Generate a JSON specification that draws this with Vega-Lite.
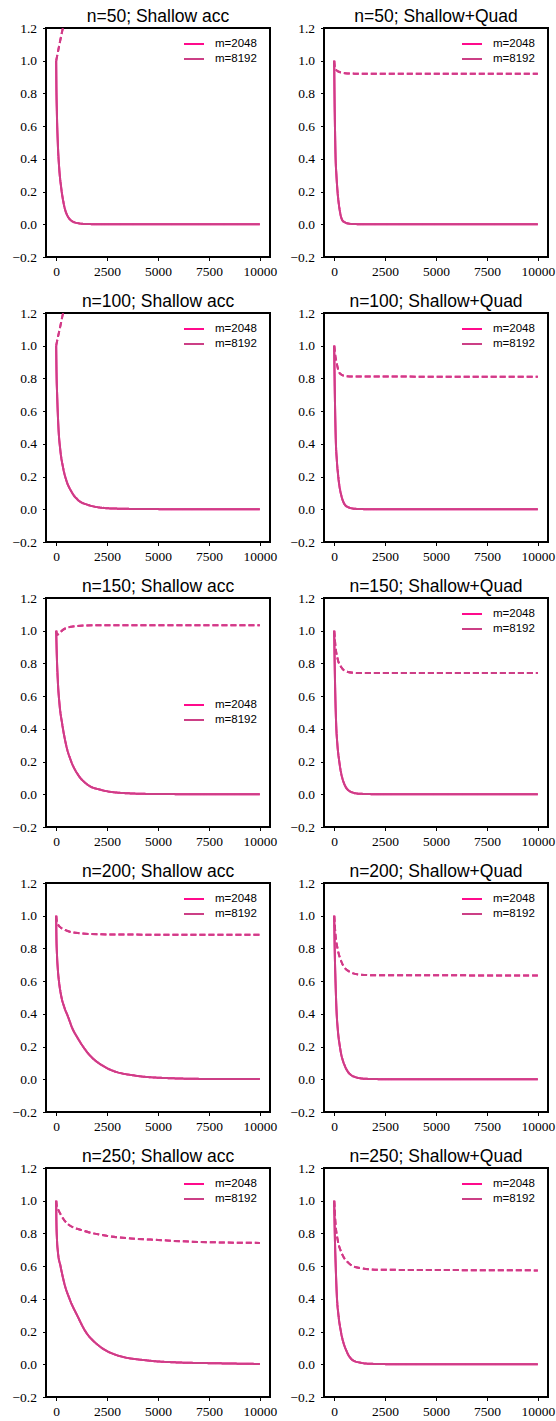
{
"$schema": "https://vega.github.io/schema/vega-lite/v6.json",
"padding": {"left": 11, "top": 6, "right": 4, "bottom": 2},
"background": "white",
"columns": 2,
"spacing": {"row": 56, "column": 54},
"bounds": "flush",
"resolve": {"legend": {"color": "independent", "strokeDash": "independent"}},
"datasets": {
"d": [
{"p":"a50","m":"m=2048","s":"train","x":0,"y":1},{"p":"a50","m":"m=2048","s":"train","x":10,"y":0.85},{"p":"a50","m":"m=2048","s":"train","x":33,"y":0.69},{"p":"a50","m":"m=2048","s":"train","x":82,"y":0.49},{"p":"a50","m":"m=2048","s":"train","x":150,"y":0.34},{"p":"a50","m":"m=2048","s":"train","x":250,"y":0.22},{"p":"a50","m":"m=2048","s":"train","x":380,"y":0.12},{"p":"a50","m":"m=2048","s":"train","x":575,"y":0.047},{"p":"a50","m":"m=2048","s":"train","x":900,"y":0.012},{"p":"a50","m":"m=2048","s":"train","x":1400,"y":0.002},{"p":"a50","m":"m=2048","s":"train","x":2500,"y":0},{"p":"a50","m":"m=2048","s":"train","x":10000,"y":0},
{"p":"a50","m":"m=2048","s":"test","x":0,"y":1},{"p":"a50","m":"m=2048","s":"test","x":80,"y":1.05},{"p":"a50","m":"m=2048","s":"test","x":160,"y":1.1},{"p":"a50","m":"m=2048","s":"test","x":330,"y":1.2},{"p":"a50","m":"m=2048","s":"test","x":600,"y":1.33},{"p":"a50","m":"m=2048","s":"test","x":1000,"y":1.5},
{"p":"a50","m":"m=8192","s":"train","x":0,"y":1},{"p":"a50","m":"m=8192","s":"train","x":10,"y":0.85},{"p":"a50","m":"m=8192","s":"train","x":33,"y":0.69},{"p":"a50","m":"m=8192","s":"train","x":82,"y":0.49},{"p":"a50","m":"m=8192","s":"train","x":150,"y":0.34},{"p":"a50","m":"m=8192","s":"train","x":250,"y":0.22},{"p":"a50","m":"m=8192","s":"train","x":380,"y":0.12},{"p":"a50","m":"m=8192","s":"train","x":575,"y":0.047},{"p":"a50","m":"m=8192","s":"train","x":900,"y":0.012},{"p":"a50","m":"m=8192","s":"train","x":1400,"y":0.002},{"p":"a50","m":"m=8192","s":"train","x":2500,"y":0},{"p":"a50","m":"m=8192","s":"train","x":10000,"y":0},
{"p":"a50","m":"m=8192","s":"test","x":0,"y":1},{"p":"a50","m":"m=8192","s":"test","x":80,"y":1.05},{"p":"a50","m":"m=8192","s":"test","x":160,"y":1.1},{"p":"a50","m":"m=8192","s":"test","x":330,"y":1.2},{"p":"a50","m":"m=8192","s":"test","x":600,"y":1.33},{"p":"a50","m":"m=8192","s":"test","x":1000,"y":1.5},

{"p":"a100","m":"m=2048","s":"train","x":0,"y":1},{"p":"a100","m":"m=2048","s":"train","x":15,"y":0.85},{"p":"a100","m":"m=2048","s":"train","x":50,"y":0.69},{"p":"a100","m":"m=2048","s":"train","x":115,"y":0.49},{"p":"a100","m":"m=2048","s":"train","x":200,"y":0.365},{"p":"a100","m":"m=2048","s":"train","x":330,"y":0.26},{"p":"a100","m":"m=2048","s":"train","x":490,"y":0.18},{"p":"a100","m":"m=2048","s":"train","x":740,"y":0.11},{"p":"a100","m":"m=2048","s":"train","x":1070,"y":0.057},{"p":"a100","m":"m=2048","s":"train","x":1560,"y":0.027},{"p":"a100","m":"m=2048","s":"train","x":2200,"y":0.01},{"p":"a100","m":"m=2048","s":"train","x":3000,"y":0.004},{"p":"a100","m":"m=2048","s":"train","x":5000,"y":0.001},{"p":"a100","m":"m=2048","s":"train","x":10000,"y":0},
{"p":"a100","m":"m=2048","s":"test","x":0,"y":1},{"p":"a100","m":"m=2048","s":"test","x":80,"y":1.05},{"p":"a100","m":"m=2048","s":"test","x":170,"y":1.1},{"p":"a100","m":"m=2048","s":"test","x":340,"y":1.2},{"p":"a100","m":"m=2048","s":"test","x":600,"y":1.32},{"p":"a100","m":"m=2048","s":"test","x":1000,"y":1.5},
{"p":"a100","m":"m=8192","s":"train","x":0,"y":1},{"p":"a100","m":"m=8192","s":"train","x":15,"y":0.85},{"p":"a100","m":"m=8192","s":"train","x":50,"y":0.69},{"p":"a100","m":"m=8192","s":"train","x":115,"y":0.49},{"p":"a100","m":"m=8192","s":"train","x":200,"y":0.365},{"p":"a100","m":"m=8192","s":"train","x":330,"y":0.26},{"p":"a100","m":"m=8192","s":"train","x":490,"y":0.18},{"p":"a100","m":"m=8192","s":"train","x":740,"y":0.11},{"p":"a100","m":"m=8192","s":"train","x":1070,"y":0.057},{"p":"a100","m":"m=8192","s":"train","x":1560,"y":0.027},{"p":"a100","m":"m=8192","s":"train","x":2200,"y":0.01},{"p":"a100","m":"m=8192","s":"train","x":3000,"y":0.004},{"p":"a100","m":"m=8192","s":"train","x":5000,"y":0.001},{"p":"a100","m":"m=8192","s":"train","x":10000,"y":0},
{"p":"a100","m":"m=8192","s":"test","x":0,"y":1},{"p":"a100","m":"m=8192","s":"test","x":80,"y":1.05},{"p":"a100","m":"m=8192","s":"test","x":170,"y":1.1},{"p":"a100","m":"m=8192","s":"test","x":340,"y":1.2},{"p":"a100","m":"m=8192","s":"test","x":600,"y":1.32},{"p":"a100","m":"m=8192","s":"test","x":1000,"y":1.5},

{"p":"a150","m":"m=2048","s":"train","x":0,"y":1},{"p":"a150","m":"m=2048","s":"train","x":33,"y":0.84},{"p":"a150","m":"m=2048","s":"train","x":82,"y":0.69},{"p":"a150","m":"m=2048","s":"train","x":164,"y":0.55},{"p":"a150","m":"m=2048","s":"train","x":295,"y":0.43},{"p":"a150","m":"m=2048","s":"train","x":490,"y":0.3},{"p":"a150","m":"m=2048","s":"train","x":740,"y":0.2},{"p":"a150","m":"m=2048","s":"train","x":1070,"y":0.12},{"p":"a150","m":"m=2048","s":"train","x":1560,"y":0.057},{"p":"a150","m":"m=2048","s":"train","x":2210,"y":0.027},{"p":"a150","m":"m=2048","s":"train","x":3030,"y":0.01},{"p":"a150","m":"m=2048","s":"train","x":4670,"y":0.002},{"p":"a150","m":"m=2048","s":"train","x":7000,"y":0.0005},{"p":"a150","m":"m=2048","s":"train","x":10000,"y":0},
{"p":"a150","m":"m=2048","s":"test","x":0,"y":1},{"p":"a150","m":"m=2048","s":"test","x":50,"y":0.975},{"p":"a150","m":"m=2048","s":"test","x":150,"y":0.985},{"p":"a150","m":"m=2048","s":"test","x":330,"y":1.005},{"p":"a150","m":"m=2048","s":"test","x":740,"y":1.024},{"p":"a150","m":"m=2048","s":"test","x":1400,"y":1.032},{"p":"a150","m":"m=2048","s":"test","x":2500,"y":1.034},{"p":"a150","m":"m=2048","s":"test","x":10000,"y":1.034},
{"p":"a150","m":"m=8192","s":"train","x":0,"y":1},{"p":"a150","m":"m=8192","s":"train","x":33,"y":0.84},{"p":"a150","m":"m=8192","s":"train","x":82,"y":0.69},{"p":"a150","m":"m=8192","s":"train","x":164,"y":0.55},{"p":"a150","m":"m=8192","s":"train","x":295,"y":0.43},{"p":"a150","m":"m=8192","s":"train","x":490,"y":0.3},{"p":"a150","m":"m=8192","s":"train","x":740,"y":0.2},{"p":"a150","m":"m=8192","s":"train","x":1070,"y":0.12},{"p":"a150","m":"m=8192","s":"train","x":1560,"y":0.057},{"p":"a150","m":"m=8192","s":"train","x":2210,"y":0.027},{"p":"a150","m":"m=8192","s":"train","x":3030,"y":0.01},{"p":"a150","m":"m=8192","s":"train","x":4670,"y":0.002},{"p":"a150","m":"m=8192","s":"train","x":7000,"y":0.0005},{"p":"a150","m":"m=8192","s":"train","x":10000,"y":0},
{"p":"a150","m":"m=8192","s":"test","x":0,"y":1},{"p":"a150","m":"m=8192","s":"test","x":50,"y":0.975},{"p":"a150","m":"m=8192","s":"test","x":150,"y":0.985},{"p":"a150","m":"m=8192","s":"test","x":330,"y":1.005},{"p":"a150","m":"m=8192","s":"test","x":740,"y":1.024},{"p":"a150","m":"m=8192","s":"test","x":1400,"y":1.032},{"p":"a150","m":"m=8192","s":"test","x":2500,"y":1.034},{"p":"a150","m":"m=8192","s":"test","x":10000,"y":1.034},

{"p":"a200","m":"m=2048","s":"train","x":0,"y":1},{"p":"a200","m":"m=2048","s":"train","x":10,"y":0.88},{"p":"a200","m":"m=2048","s":"train","x":40,"y":0.76},{"p":"a200","m":"m=2048","s":"train","x":82,"y":0.67},{"p":"a200","m":"m=2048","s":"train","x":150,"y":0.585},{"p":"a200","m":"m=2048","s":"train","x":246,"y":0.51},{"p":"a200","m":"m=2048","s":"train","x":400,"y":0.44},{"p":"a200","m":"m=2048","s":"train","x":574,"y":0.385},{"p":"a200","m":"m=2048","s":"train","x":800,"y":0.31},{"p":"a200","m":"m=2048","s":"train","x":1066,"y":0.25},{"p":"a200","m":"m=2048","s":"train","x":1558,"y":0.16},{"p":"a200","m":"m=2048","s":"train","x":2500,"y":0.068},{"p":"a200","m":"m=2048","s":"train","x":3850,"y":0.023},{"p":"a200","m":"m=2048","s":"train","x":5500,"y":0.007},{"p":"a200","m":"m=2048","s":"train","x":7500,"y":0.002},{"p":"a200","m":"m=2048","s":"train","x":10000,"y":0.001},
{"p":"a200","m":"m=2048","s":"test","x":0,"y":1},{"p":"a200","m":"m=2048","s":"test","x":30,"y":0.965},{"p":"a200","m":"m=2048","s":"test","x":82,"y":0.948},{"p":"a200","m":"m=2048","s":"test","x":200,"y":0.93},{"p":"a200","m":"m=2048","s":"test","x":410,"y":0.914},{"p":"a200","m":"m=2048","s":"test","x":1066,"y":0.894},{"p":"a200","m":"m=2048","s":"test","x":2214,"y":0.886},{"p":"a200","m":"m=2048","s":"test","x":5000,"y":0.884},{"p":"a200","m":"m=2048","s":"test","x":10000,"y":0.883},
{"p":"a200","m":"m=8192","s":"train","x":0,"y":1},{"p":"a200","m":"m=8192","s":"train","x":10,"y":0.88},{"p":"a200","m":"m=8192","s":"train","x":40,"y":0.76},{"p":"a200","m":"m=8192","s":"train","x":82,"y":0.67},{"p":"a200","m":"m=8192","s":"train","x":150,"y":0.585},{"p":"a200","m":"m=8192","s":"train","x":246,"y":0.51},{"p":"a200","m":"m=8192","s":"train","x":400,"y":0.44},{"p":"a200","m":"m=8192","s":"train","x":574,"y":0.385},{"p":"a200","m":"m=8192","s":"train","x":800,"y":0.31},{"p":"a200","m":"m=8192","s":"train","x":1066,"y":0.25},{"p":"a200","m":"m=8192","s":"train","x":1558,"y":0.16},{"p":"a200","m":"m=8192","s":"train","x":2500,"y":0.068},{"p":"a200","m":"m=8192","s":"train","x":3850,"y":0.023},{"p":"a200","m":"m=8192","s":"train","x":5500,"y":0.007},{"p":"a200","m":"m=8192","s":"train","x":7500,"y":0.002},{"p":"a200","m":"m=8192","s":"train","x":10000,"y":0.001},
{"p":"a200","m":"m=8192","s":"test","x":0,"y":1},{"p":"a200","m":"m=8192","s":"test","x":30,"y":0.965},{"p":"a200","m":"m=8192","s":"test","x":82,"y":0.948},{"p":"a200","m":"m=8192","s":"test","x":200,"y":0.93},{"p":"a200","m":"m=8192","s":"test","x":410,"y":0.914},{"p":"a200","m":"m=8192","s":"test","x":1066,"y":0.894},{"p":"a200","m":"m=8192","s":"test","x":2214,"y":0.886},{"p":"a200","m":"m=8192","s":"test","x":5000,"y":0.884},{"p":"a200","m":"m=8192","s":"test","x":10000,"y":0.883},

{"p":"a250","m":"m=2048","s":"train","x":0,"y":1},{"p":"a250","m":"m=2048","s":"train","x":10,"y":0.88},{"p":"a250","m":"m=2048","s":"train","x":40,"y":0.76},{"p":"a250","m":"m=2048","s":"train","x":82,"y":0.69},{"p":"a250","m":"m=2048","s":"train","x":213,"y":0.6},{"p":"a250","m":"m=2048","s":"train","x":410,"y":0.49},{"p":"a250","m":"m=2048","s":"train","x":656,"y":0.4},{"p":"a250","m":"m=2048","s":"train","x":1066,"y":0.29},{"p":"a250","m":"m=2048","s":"train","x":1394,"y":0.21},{"p":"a250","m":"m=2048","s":"train","x":2132,"y":0.11},{"p":"a250","m":"m=2048","s":"train","x":2952,"y":0.057},{"p":"a250","m":"m=2048","s":"train","x":4510,"y":0.023},{"p":"a250","m":"m=2048","s":"train","x":5822,"y":0.012},{"p":"a250","m":"m=2048","s":"train","x":7954,"y":0.006},{"p":"a250","m":"m=2048","s":"train","x":10000,"y":0.002},
{"p":"a250","m":"m=2048","s":"test","x":0,"y":1},{"p":"a250","m":"m=2048","s":"test","x":30,"y":0.965},{"p":"a250","m":"m=2048","s":"test","x":82,"y":0.95},{"p":"a250","m":"m=2048","s":"test","x":246,"y":0.91},{"p":"a250","m":"m=2048","s":"test","x":574,"y":0.857},{"p":"a250","m":"m=2048","s":"test","x":1394,"y":0.815},{"p":"a250","m":"m=2048","s":"test","x":2500,"y":0.785},{"p":"a250","m":"m=2048","s":"test","x":3850,"y":0.768},{"p":"a250","m":"m=2048","s":"test","x":5000,"y":0.76},{"p":"a250","m":"m=2048","s":"test","x":6500,"y":0.75},{"p":"a250","m":"m=2048","s":"test","x":10000,"y":0.742},
{"p":"a250","m":"m=8192","s":"train","x":0,"y":1},{"p":"a250","m":"m=8192","s":"train","x":10,"y":0.88},{"p":"a250","m":"m=8192","s":"train","x":40,"y":0.76},{"p":"a250","m":"m=8192","s":"train","x":82,"y":0.69},{"p":"a250","m":"m=8192","s":"train","x":213,"y":0.6},{"p":"a250","m":"m=8192","s":"train","x":410,"y":0.49},{"p":"a250","m":"m=8192","s":"train","x":656,"y":0.4},{"p":"a250","m":"m=8192","s":"train","x":1066,"y":0.29},{"p":"a250","m":"m=8192","s":"train","x":1394,"y":0.21},{"p":"a250","m":"m=8192","s":"train","x":2132,"y":0.11},{"p":"a250","m":"m=8192","s":"train","x":2952,"y":0.057},{"p":"a250","m":"m=8192","s":"train","x":4510,"y":0.023},{"p":"a250","m":"m=8192","s":"train","x":5822,"y":0.012},{"p":"a250","m":"m=8192","s":"train","x":7954,"y":0.006},{"p":"a250","m":"m=8192","s":"train","x":10000,"y":0.002},
{"p":"a250","m":"m=8192","s":"test","x":0,"y":1},{"p":"a250","m":"m=8192","s":"test","x":30,"y":0.965},{"p":"a250","m":"m=8192","s":"test","x":82,"y":0.95},{"p":"a250","m":"m=8192","s":"test","x":246,"y":0.91},{"p":"a250","m":"m=8192","s":"test","x":574,"y":0.857},{"p":"a250","m":"m=8192","s":"test","x":1394,"y":0.815},{"p":"a250","m":"m=8192","s":"test","x":2500,"y":0.785},{"p":"a250","m":"m=8192","s":"test","x":3850,"y":0.768},{"p":"a250","m":"m=8192","s":"test","x":5000,"y":0.76},{"p":"a250","m":"m=8192","s":"test","x":6500,"y":0.75},{"p":"a250","m":"m=8192","s":"test","x":10000,"y":0.742},

{"p":"q50","m":"m=2048","s":"train","x":0,"y":1},{"p":"q50","m":"m=2048","s":"train","x":20,"y":0.75},{"p":"q50","m":"m=2048","s":"train","x":45,"y":0.55},{"p":"q50","m":"m=2048","s":"train","x":66,"y":0.42},{"p":"q50","m":"m=2048","s":"train","x":110,"y":0.3},{"p":"q50","m":"m=2048","s":"train","x":165,"y":0.2},{"p":"q50","m":"m=2048","s":"train","x":280,"y":0.08},{"p":"q50","m":"m=2048","s":"train","x":445,"y":0.018},{"p":"q50","m":"m=2048","s":"train","x":775,"y":0.003},{"p":"q50","m":"m=2048","s":"train","x":1500,"y":0},{"p":"q50","m":"m=2048","s":"train","x":10000,"y":0},
{"p":"q50","m":"m=2048","s":"test","x":0,"y":1},{"p":"q50","m":"m=2048","s":"test","x":30,"y":0.96},{"p":"q50","m":"m=2048","s":"test","x":66,"y":0.95},{"p":"q50","m":"m=2048","s":"test","x":200,"y":0.934},{"p":"q50","m":"m=2048","s":"test","x":530,"y":0.924},{"p":"q50","m":"m=2048","s":"test","x":1000,"y":0.921},{"p":"q50","m":"m=2048","s":"test","x":10000,"y":0.92},
{"p":"q50","m":"m=8192","s":"train","x":0,"y":1},{"p":"q50","m":"m=8192","s":"train","x":20,"y":0.75},{"p":"q50","m":"m=8192","s":"train","x":45,"y":0.55},{"p":"q50","m":"m=8192","s":"train","x":66,"y":0.42},{"p":"q50","m":"m=8192","s":"train","x":110,"y":0.3},{"p":"q50","m":"m=8192","s":"train","x":165,"y":0.2},{"p":"q50","m":"m=8192","s":"train","x":280,"y":0.08},{"p":"q50","m":"m=8192","s":"train","x":445,"y":0.018},{"p":"q50","m":"m=8192","s":"train","x":775,"y":0.003},{"p":"q50","m":"m=8192","s":"train","x":1500,"y":0},{"p":"q50","m":"m=8192","s":"train","x":10000,"y":0},
{"p":"q50","m":"m=8192","s":"test","x":0,"y":1},{"p":"q50","m":"m=8192","s":"test","x":30,"y":0.96},{"p":"q50","m":"m=8192","s":"test","x":66,"y":0.95},{"p":"q50","m":"m=8192","s":"test","x":200,"y":0.934},{"p":"q50","m":"m=8192","s":"test","x":530,"y":0.924},{"p":"q50","m":"m=8192","s":"test","x":1000,"y":0.921},{"p":"q50","m":"m=8192","s":"test","x":10000,"y":0.92},

{"p":"q100","m":"m=2048","s":"train","x":0,"y":1},{"p":"q100","m":"m=2048","s":"train","x":25,"y":0.76},{"p":"q100","m":"m=2048","s":"train","x":50,"y":0.58},{"p":"q100","m":"m=2048","s":"train","x":80,"y":0.42},{"p":"q100","m":"m=2048","s":"train","x":130,"y":0.3},{"p":"q100","m":"m=2048","s":"train","x":200,"y":0.2},{"p":"q100","m":"m=2048","s":"train","x":360,"y":0.08},{"p":"q100","m":"m=2048","s":"train","x":610,"y":0.018},{"p":"q100","m":"m=2048","s":"train","x":1020,"y":0.003},{"p":"q100","m":"m=2048","s":"train","x":2000,"y":0},{"p":"q100","m":"m=2048","s":"train","x":10000,"y":0},
{"p":"q100","m":"m=2048","s":"test","x":0,"y":1},{"p":"q100","m":"m=2048","s":"test","x":66,"y":0.93},{"p":"q100","m":"m=2048","s":"test","x":115,"y":0.9},{"p":"q100","m":"m=2048","s":"test","x":165,"y":0.87},{"p":"q100","m":"m=2048","s":"test","x":280,"y":0.83},{"p":"q100","m":"m=2048","s":"test","x":530,"y":0.815},{"p":"q100","m":"m=2048","s":"test","x":1000,"y":0.812},{"p":"q100","m":"m=2048","s":"test","x":10000,"y":0.81},
{"p":"q100","m":"m=8192","s":"train","x":0,"y":1},{"p":"q100","m":"m=8192","s":"train","x":25,"y":0.76},{"p":"q100","m":"m=8192","s":"train","x":50,"y":0.58},{"p":"q100","m":"m=8192","s":"train","x":80,"y":0.42},{"p":"q100","m":"m=8192","s":"train","x":130,"y":0.3},{"p":"q100","m":"m=8192","s":"train","x":200,"y":0.2},{"p":"q100","m":"m=8192","s":"train","x":360,"y":0.08},{"p":"q100","m":"m=8192","s":"train","x":610,"y":0.018},{"p":"q100","m":"m=8192","s":"train","x":1020,"y":0.003},{"p":"q100","m":"m=8192","s":"train","x":2000,"y":0},{"p":"q100","m":"m=8192","s":"train","x":10000,"y":0},
{"p":"q100","m":"m=8192","s":"test","x":0,"y":1},{"p":"q100","m":"m=8192","s":"test","x":66,"y":0.93},{"p":"q100","m":"m=8192","s":"test","x":115,"y":0.9},{"p":"q100","m":"m=8192","s":"test","x":165,"y":0.87},{"p":"q100","m":"m=8192","s":"test","x":280,"y":0.83},{"p":"q100","m":"m=8192","s":"test","x":530,"y":0.815},{"p":"q100","m":"m=8192","s":"test","x":1000,"y":0.812},{"p":"q100","m":"m=8192","s":"test","x":10000,"y":0.81},

{"p":"q150","m":"m=2048","s":"train","x":0,"y":1},{"p":"q150","m":"m=2048","s":"train","x":30,"y":0.76},{"p":"q150","m":"m=2048","s":"train","x":60,"y":0.58},{"p":"q150","m":"m=2048","s":"train","x":100,"y":0.42},{"p":"q150","m":"m=2048","s":"train","x":160,"y":0.3},{"p":"q150","m":"m=2048","s":"train","x":250,"y":0.2},{"p":"q150","m":"m=2048","s":"train","x":445,"y":0.08},{"p":"q150","m":"m=2048","s":"train","x":775,"y":0.018},{"p":"q150","m":"m=2048","s":"train","x":1270,"y":0.003},{"p":"q150","m":"m=2048","s":"train","x":2500,"y":0},{"p":"q150","m":"m=2048","s":"train","x":10000,"y":0},
{"p":"q150","m":"m=2048","s":"test","x":0,"y":1},{"p":"q150","m":"m=2048","s":"test","x":66,"y":0.9},{"p":"q150","m":"m=2048","s":"test","x":165,"y":0.83},{"p":"q150","m":"m=2048","s":"test","x":360,"y":0.775},{"p":"q150","m":"m=2048","s":"test","x":610,"y":0.75},{"p":"q150","m":"m=2048","s":"test","x":1190,"y":0.741},{"p":"q150","m":"m=2048","s":"test","x":10000,"y":0.742},
{"p":"q150","m":"m=8192","s":"train","x":0,"y":1},{"p":"q150","m":"m=8192","s":"train","x":30,"y":0.76},{"p":"q150","m":"m=8192","s":"train","x":60,"y":0.58},{"p":"q150","m":"m=8192","s":"train","x":100,"y":0.42},{"p":"q150","m":"m=8192","s":"train","x":160,"y":0.3},{"p":"q150","m":"m=8192","s":"train","x":250,"y":0.2},{"p":"q150","m":"m=8192","s":"train","x":445,"y":0.08},{"p":"q150","m":"m=8192","s":"train","x":775,"y":0.018},{"p":"q150","m":"m=8192","s":"train","x":1270,"y":0.003},{"p":"q150","m":"m=8192","s":"train","x":2500,"y":0},{"p":"q150","m":"m=8192","s":"train","x":10000,"y":0},
{"p":"q150","m":"m=8192","s":"test","x":0,"y":1},{"p":"q150","m":"m=8192","s":"test","x":66,"y":0.9},{"p":"q150","m":"m=8192","s":"test","x":165,"y":0.83},{"p":"q150","m":"m=8192","s":"test","x":360,"y":0.775},{"p":"q150","m":"m=8192","s":"test","x":610,"y":0.75},{"p":"q150","m":"m=8192","s":"test","x":1190,"y":0.741},{"p":"q150","m":"m=8192","s":"test","x":10000,"y":0.742},

{"p":"q200","m":"m=2048","s":"train","x":0,"y":1},{"p":"q200","m":"m=2048","s":"train","x":30,"y":0.77},{"p":"q200","m":"m=2048","s":"train","x":65,"y":0.6},{"p":"q200","m":"m=2048","s":"train","x":115,"y":0.42},{"p":"q200","m":"m=2048","s":"train","x":180,"y":0.3},{"p":"q200","m":"m=2048","s":"train","x":280,"y":0.2},{"p":"q200","m":"m=2048","s":"train","x":530,"y":0.08},{"p":"q200","m":"m=2048","s":"train","x":940,"y":0.018},{"p":"q200","m":"m=2048","s":"train","x":1520,"y":0.003},{"p":"q200","m":"m=2048","s":"train","x":3000,"y":0},{"p":"q200","m":"m=2048","s":"train","x":10000,"y":0},
{"p":"q200","m":"m=2048","s":"test","x":0,"y":1},{"p":"q200","m":"m=2048","s":"test","x":66,"y":0.88},{"p":"q200","m":"m=2048","s":"test","x":165,"y":0.8},{"p":"q200","m":"m=2048","s":"test","x":360,"y":0.717},{"p":"q200","m":"m=2048","s":"test","x":700,"y":0.662},{"p":"q200","m":"m=2048","s":"test","x":1190,"y":0.641},{"p":"q200","m":"m=2048","s":"test","x":2000,"y":0.636},{"p":"q200","m":"m=2048","s":"test","x":10000,"y":0.635},
{"p":"q200","m":"m=8192","s":"train","x":0,"y":1},{"p":"q200","m":"m=8192","s":"train","x":30,"y":0.77},{"p":"q200","m":"m=8192","s":"train","x":65,"y":0.6},{"p":"q200","m":"m=8192","s":"train","x":115,"y":0.42},{"p":"q200","m":"m=8192","s":"train","x":180,"y":0.3},{"p":"q200","m":"m=8192","s":"train","x":280,"y":0.2},{"p":"q200","m":"m=8192","s":"train","x":530,"y":0.08},{"p":"q200","m":"m=8192","s":"train","x":940,"y":0.018},{"p":"q200","m":"m=8192","s":"train","x":1520,"y":0.003},{"p":"q200","m":"m=8192","s":"train","x":3000,"y":0},{"p":"q200","m":"m=8192","s":"train","x":10000,"y":0},
{"p":"q200","m":"m=8192","s":"test","x":0,"y":1},{"p":"q200","m":"m=8192","s":"test","x":66,"y":0.88},{"p":"q200","m":"m=8192","s":"test","x":165,"y":0.8},{"p":"q200","m":"m=8192","s":"test","x":360,"y":0.717},{"p":"q200","m":"m=8192","s":"test","x":700,"y":0.662},{"p":"q200","m":"m=8192","s":"test","x":1190,"y":0.641},{"p":"q200","m":"m=8192","s":"test","x":2000,"y":0.636},{"p":"q200","m":"m=8192","s":"test","x":10000,"y":0.635},

{"p":"q250","m":"m=2048","s":"train","x":0,"y":1},{"p":"q250","m":"m=2048","s":"train","x":35,"y":0.77},{"p":"q250","m":"m=2048","s":"train","x":75,"y":0.6},{"p":"q250","m":"m=2048","s":"train","x":130,"y":0.42},{"p":"q250","m":"m=2048","s":"train","x":210,"y":0.3},{"p":"q250","m":"m=2048","s":"train","x":330,"y":0.2},{"p":"q250","m":"m=2048","s":"train","x":610,"y":0.08},{"p":"q250","m":"m=2048","s":"train","x":1020,"y":0.018},{"p":"q250","m":"m=2048","s":"train","x":1770,"y":0.003},{"p":"q250","m":"m=2048","s":"train","x":3500,"y":0},{"p":"q250","m":"m=2048","s":"train","x":10000,"y":0},
{"p":"q250","m":"m=2048","s":"test","x":0,"y":1},{"p":"q250","m":"m=2048","s":"test","x":66,"y":0.857},{"p":"q250","m":"m=2048","s":"test","x":165,"y":0.765},{"p":"q250","m":"m=2048","s":"test","x":360,"y":0.682},{"p":"q250","m":"m=2048","s":"test","x":700,"y":0.62},{"p":"q250","m":"m=2048","s":"test","x":1190,"y":0.59},{"p":"q250","m":"m=2048","s":"test","x":2180,"y":0.578},{"p":"q250","m":"m=2048","s":"test","x":5500,"y":0.576},{"p":"q250","m":"m=2048","s":"test","x":10000,"y":0.574},
{"p":"q250","m":"m=8192","s":"train","x":0,"y":1},{"p":"q250","m":"m=8192","s":"train","x":35,"y":0.77},{"p":"q250","m":"m=8192","s":"train","x":75,"y":0.6},{"p":"q250","m":"m=8192","s":"train","x":130,"y":0.42},{"p":"q250","m":"m=8192","s":"train","x":210,"y":0.3},{"p":"q250","m":"m=8192","s":"train","x":330,"y":0.2},{"p":"q250","m":"m=8192","s":"train","x":610,"y":0.08},{"p":"q250","m":"m=8192","s":"train","x":1020,"y":0.018},{"p":"q250","m":"m=8192","s":"train","x":1770,"y":0.003},{"p":"q250","m":"m=8192","s":"train","x":3500,"y":0},{"p":"q250","m":"m=8192","s":"train","x":10000,"y":0},
{"p":"q250","m":"m=8192","s":"test","x":0,"y":1},{"p":"q250","m":"m=8192","s":"test","x":66,"y":0.857},{"p":"q250","m":"m=8192","s":"test","x":165,"y":0.765},{"p":"q250","m":"m=8192","s":"test","x":360,"y":0.682},{"p":"q250","m":"m=8192","s":"test","x":700,"y":0.62},{"p":"q250","m":"m=8192","s":"test","x":1190,"y":0.59},{"p":"q250","m":"m=8192","s":"test","x":2180,"y":0.578},{"p":"q250","m":"m=8192","s":"test","x":5500,"y":0.576},{"p":"q250","m":"m=8192","s":"test","x":10000,"y":0.574}
]
},
"data": {"name": "d"},
"concat": [
{"title": "n=50; Shallow acc", "width": 224, "height": 229, "transform": [{"filter": "datum.p=='a50'"}],
 "mark": {"type": "line", "clip": true, "strokeWidth": 2, "interpolate": "monotone"},
 "encoding": {
  "x": {"field": "x", "type": "quantitative", "scale": {"domain": [-500, 10500], "nice": false, "zero": false}, "axis": {"values": [0, 2500, 5000, 7500, 10000], "format": "d", "title": null}},
  "y": {"field": "y", "type": "quantitative", "scale": {"domain": [-0.2, 1.2], "nice": false, "zero": false}, "axis": {"values": [-0.2, 0, 0.2, 0.4, 0.6, 0.8, 1.0, 1.2], "format": ".1f", "title": null}},
  "color": {"field": "m", "type": "nominal", "scale": {"domain": ["m=2048", "m=8192"], "range": ["#ff0a8c", "#cc3f86"]}, "legend": {"title": null, "orient": "none", "legendX": 140, "legendY": 8, "symbolType": "M-1.43,0H1.43", "symbolSize": 196, "symbolStrokeWidth": 2}},
  "strokeDash": {"field": "s", "type": "nominal", "scale": {"domain": ["train", "test"], "range": [[1, 0], [6, 3]]}, "legend": null}
 }},
{"title": "n=50; Shallow+Quad", "width": 224, "height": 229, "transform": [{"filter": "datum.p=='q50'"}],
 "mark": {"type": "line", "clip": true, "strokeWidth": 2, "interpolate": "monotone"},
 "encoding": {
  "x": {"field": "x", "type": "quantitative", "scale": {"domain": [-500, 10500], "nice": false, "zero": false}, "axis": {"values": [0, 2500, 5000, 7500, 10000], "format": "d", "title": null}},
  "y": {"field": "y", "type": "quantitative", "scale": {"domain": [-0.2, 1.2], "nice": false, "zero": false}, "axis": {"values": [-0.2, 0, 0.2, 0.4, 0.6, 0.8, 1.0, 1.2], "format": ".1f", "title": null}},
  "color": {"field": "m", "type": "nominal", "scale": {"domain": ["m=2048", "m=8192"], "range": ["#ff0a8c", "#cc3f86"]}, "legend": {"title": null, "orient": "none", "legendX": 140, "legendY": 8, "symbolType": "M-1.43,0H1.43", "symbolSize": 196, "symbolStrokeWidth": 2}},
  "strokeDash": {"field": "s", "type": "nominal", "scale": {"domain": ["train", "test"], "range": [[1, 0], [6, 3]]}, "legend": null}
 }},
{"title": "n=100; Shallow acc", "width": 224, "height": 229, "transform": [{"filter": "datum.p=='a100'"}],
 "mark": {"type": "line", "clip": true, "strokeWidth": 2, "interpolate": "monotone"},
 "encoding": {
  "x": {"field": "x", "type": "quantitative", "scale": {"domain": [-500, 10500], "nice": false, "zero": false}, "axis": {"values": [0, 2500, 5000, 7500, 10000], "format": "d", "title": null}},
  "y": {"field": "y", "type": "quantitative", "scale": {"domain": [-0.2, 1.2], "nice": false, "zero": false}, "axis": {"values": [-0.2, 0, 0.2, 0.4, 0.6, 0.8, 1.0, 1.2], "format": ".1f", "title": null}},
  "color": {"field": "m", "type": "nominal", "scale": {"domain": ["m=2048", "m=8192"], "range": ["#ff0a8c", "#cc3f86"]}, "legend": {"title": null, "orient": "none", "legendX": 140, "legendY": 8, "symbolType": "M-1.43,0H1.43", "symbolSize": 196, "symbolStrokeWidth": 2}},
  "strokeDash": {"field": "s", "type": "nominal", "scale": {"domain": ["train", "test"], "range": [[1, 0], [6, 3]]}, "legend": null}
 }},
{"title": "n=100; Shallow+Quad", "width": 224, "height": 229, "transform": [{"filter": "datum.p=='q100'"}],
 "mark": {"type": "line", "clip": true, "strokeWidth": 2, "interpolate": "monotone"},
 "encoding": {
  "x": {"field": "x", "type": "quantitative", "scale": {"domain": [-500, 10500], "nice": false, "zero": false}, "axis": {"values": [0, 2500, 5000, 7500, 10000], "format": "d", "title": null}},
  "y": {"field": "y", "type": "quantitative", "scale": {"domain": [-0.2, 1.2], "nice": false, "zero": false}, "axis": {"values": [-0.2, 0, 0.2, 0.4, 0.6, 0.8, 1.0, 1.2], "format": ".1f", "title": null}},
  "color": {"field": "m", "type": "nominal", "scale": {"domain": ["m=2048", "m=8192"], "range": ["#ff0a8c", "#cc3f86"]}, "legend": {"title": null, "orient": "none", "legendX": 140, "legendY": 8, "symbolType": "M-1.43,0H1.43", "symbolSize": 196, "symbolStrokeWidth": 2}},
  "strokeDash": {"field": "s", "type": "nominal", "scale": {"domain": ["train", "test"], "range": [[1, 0], [6, 3]]}, "legend": null}
 }},
{"title": "n=150; Shallow acc", "width": 224, "height": 229, "transform": [{"filter": "datum.p=='a150'"}],
 "mark": {"type": "line", "clip": true, "strokeWidth": 2, "interpolate": "monotone"},
 "encoding": {
  "x": {"field": "x", "type": "quantitative", "scale": {"domain": [-500, 10500], "nice": false, "zero": false}, "axis": {"values": [0, 2500, 5000, 7500, 10000], "format": "d", "title": null}},
  "y": {"field": "y", "type": "quantitative", "scale": {"domain": [-0.2, 1.2], "nice": false, "zero": false}, "axis": {"values": [-0.2, 0, 0.2, 0.4, 0.6, 0.8, 1.0, 1.2], "format": ".1f", "title": null}},
  "color": {"field": "m", "type": "nominal", "scale": {"domain": ["m=2048", "m=8192"], "range": ["#ff0a8c", "#cc3f86"]}, "legend": {"title": null, "orient": "none", "legendX": 140, "legendY": 99, "symbolType": "M-1.43,0H1.43", "symbolSize": 196, "symbolStrokeWidth": 2}},
  "strokeDash": {"field": "s", "type": "nominal", "scale": {"domain": ["train", "test"], "range": [[1, 0], [6, 3]]}, "legend": null}
 }},
{"title": "n=150; Shallow+Quad", "width": 224, "height": 229, "transform": [{"filter": "datum.p=='q150'"}],
 "mark": {"type": "line", "clip": true, "strokeWidth": 2, "interpolate": "monotone"},
 "encoding": {
  "x": {"field": "x", "type": "quantitative", "scale": {"domain": [-500, 10500], "nice": false, "zero": false}, "axis": {"values": [0, 2500, 5000, 7500, 10000], "format": "d", "title": null}},
  "y": {"field": "y", "type": "quantitative", "scale": {"domain": [-0.2, 1.2], "nice": false, "zero": false}, "axis": {"values": [-0.2, 0, 0.2, 0.4, 0.6, 0.8, 1.0, 1.2], "format": ".1f", "title": null}},
  "color": {"field": "m", "type": "nominal", "scale": {"domain": ["m=2048", "m=8192"], "range": ["#ff0a8c", "#cc3f86"]}, "legend": {"title": null, "orient": "none", "legendX": 140, "legendY": 8, "symbolType": "M-1.43,0H1.43", "symbolSize": 196, "symbolStrokeWidth": 2}},
  "strokeDash": {"field": "s", "type": "nominal", "scale": {"domain": ["train", "test"], "range": [[1, 0], [6, 3]]}, "legend": null}
 }},
{"title": "n=200; Shallow acc", "width": 224, "height": 229, "transform": [{"filter": "datum.p=='a200'"}],
 "mark": {"type": "line", "clip": true, "strokeWidth": 2, "interpolate": "monotone"},
 "encoding": {
  "x": {"field": "x", "type": "quantitative", "scale": {"domain": [-500, 10500], "nice": false, "zero": false}, "axis": {"values": [0, 2500, 5000, 7500, 10000], "format": "d", "title": null}},
  "y": {"field": "y", "type": "quantitative", "scale": {"domain": [-0.2, 1.2], "nice": false, "zero": false}, "axis": {"values": [-0.2, 0, 0.2, 0.4, 0.6, 0.8, 1.0, 1.2], "format": ".1f", "title": null}},
  "color": {"field": "m", "type": "nominal", "scale": {"domain": ["m=2048", "m=8192"], "range": ["#ff0a8c", "#cc3f86"]}, "legend": {"title": null, "orient": "none", "legendX": 140, "legendY": 8, "symbolType": "M-1.43,0H1.43", "symbolSize": 196, "symbolStrokeWidth": 2}},
  "strokeDash": {"field": "s", "type": "nominal", "scale": {"domain": ["train", "test"], "range": [[1, 0], [6, 3]]}, "legend": null}
 }},
{"title": "n=200; Shallow+Quad", "width": 224, "height": 229, "transform": [{"filter": "datum.p=='q200'"}],
 "mark": {"type": "line", "clip": true, "strokeWidth": 2, "interpolate": "monotone"},
 "encoding": {
  "x": {"field": "x", "type": "quantitative", "scale": {"domain": [-500, 10500], "nice": false, "zero": false}, "axis": {"values": [0, 2500, 5000, 7500, 10000], "format": "d", "title": null}},
  "y": {"field": "y", "type": "quantitative", "scale": {"domain": [-0.2, 1.2], "nice": false, "zero": false}, "axis": {"values": [-0.2, 0, 0.2, 0.4, 0.6, 0.8, 1.0, 1.2], "format": ".1f", "title": null}},
  "color": {"field": "m", "type": "nominal", "scale": {"domain": ["m=2048", "m=8192"], "range": ["#ff0a8c", "#cc3f86"]}, "legend": {"title": null, "orient": "none", "legendX": 140, "legendY": 8, "symbolType": "M-1.43,0H1.43", "symbolSize": 196, "symbolStrokeWidth": 2}},
  "strokeDash": {"field": "s", "type": "nominal", "scale": {"domain": ["train", "test"], "range": [[1, 0], [6, 3]]}, "legend": null}
 }},
{"title": "n=250; Shallow acc", "width": 224, "height": 229, "transform": [{"filter": "datum.p=='a250'"}],
 "mark": {"type": "line", "clip": true, "strokeWidth": 2, "interpolate": "monotone"},
 "encoding": {
  "x": {"field": "x", "type": "quantitative", "scale": {"domain": [-500, 10500], "nice": false, "zero": false}, "axis": {"values": [0, 2500, 5000, 7500, 10000], "format": "d", "title": null}},
  "y": {"field": "y", "type": "quantitative", "scale": {"domain": [-0.2, 1.2], "nice": false, "zero": false}, "axis": {"values": [-0.2, 0, 0.2, 0.4, 0.6, 0.8, 1.0, 1.2], "format": ".1f", "title": null}},
  "color": {"field": "m", "type": "nominal", "scale": {"domain": ["m=2048", "m=8192"], "range": ["#ff0a8c", "#cc3f86"]}, "legend": {"title": null, "orient": "none", "legendX": 140, "legendY": 8, "symbolType": "M-1.43,0H1.43", "symbolSize": 196, "symbolStrokeWidth": 2}},
  "strokeDash": {"field": "s", "type": "nominal", "scale": {"domain": ["train", "test"], "range": [[1, 0], [6, 3]]}, "legend": null}
 }},
{"title": "n=250; Shallow+Quad", "width": 224, "height": 229, "transform": [{"filter": "datum.p=='q250'"}],
 "mark": {"type": "line", "clip": true, "strokeWidth": 2, "interpolate": "monotone"},
 "encoding": {
  "x": {"field": "x", "type": "quantitative", "scale": {"domain": [-500, 10500], "nice": false, "zero": false}, "axis": {"values": [0, 2500, 5000, 7500, 10000], "format": "d", "title": null}},
  "y": {"field": "y", "type": "quantitative", "scale": {"domain": [-0.2, 1.2], "nice": false, "zero": false}, "axis": {"values": [-0.2, 0, 0.2, 0.4, 0.6, 0.8, 1.0, 1.2], "format": ".1f", "title": null}},
  "color": {"field": "m", "type": "nominal", "scale": {"domain": ["m=2048", "m=8192"], "range": ["#ff0a8c", "#cc3f86"]}, "legend": {"title": null, "orient": "none", "legendX": 140, "legendY": 8, "symbolType": "M-1.43,0H1.43", "symbolSize": 196, "symbolStrokeWidth": 2}},
  "strokeDash": {"field": "s", "type": "nominal", "scale": {"domain": ["train", "test"], "range": [[1, 0], [6, 3]]}, "legend": null}
 }}
],
"config": {
 "view": {"stroke": "black", "strokeWidth": 2},
 "axis": {"domain": false, "grid": false, "ticks": true, "tickColor": "black", "tickSize": 3.5, "tickWidth": 1, "labelFont": "Liberation Serif", "labelFontSize": 13.5, "labelColor": "black"},
 "axisX": {"labelPadding": 4},
 "axisY": {"labelPadding": 6},
 "title": {"font": "Liberation Sans", "fontSize": 17.5, "fontWeight": "normal", "color": "black", "offset": -4, "baseline": "alphabetic", "anchor": "middle"},
 "legend": {"labelFont": "Liberation Sans", "labelFontSize": 11.5, "labelColor": "black", "labelOffset": 13, "rowPadding": 1, "padding": 0}
}
}
